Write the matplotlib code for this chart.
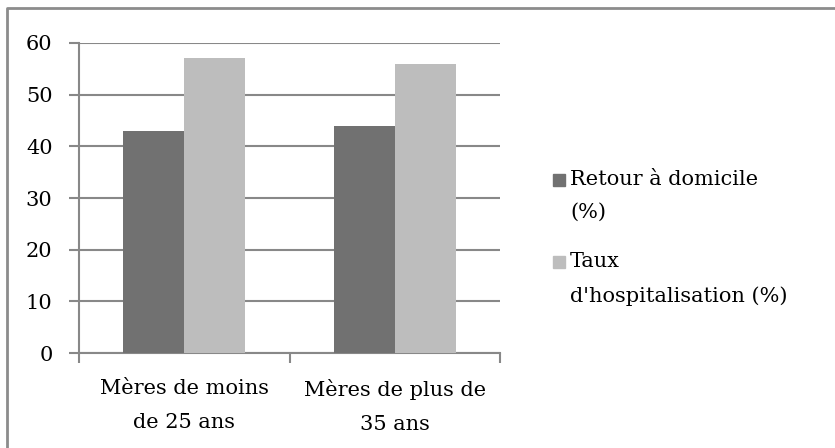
import numpy as np
import matplotlib
matplotlib.use("Agg")
import matplotlib.pyplot as plt
from matplotlib.patches import Rectangle
from matplotlib.lines import Line2D

# Data
categories = ["Mères de moins\nde 25 ans", "Mères de plus de\n35 ans"]
series_names = ["Retour à domicile\n(%)", "Taux\nd'hospitalisation (%)"]
series_colors = ["#717171", "#bdbdbd"]
retour = [43, 44]
hospit = [57, 56]
yticks = [0, 10, 20, 30, 40, 50, 60]

plt.rcParams['font.family'] = ['DejaVu Serif']
fs = 15

W, H = 835, 448
fig = plt.figure(figsize=(W / 100, H / 100), dpi=100)
ax = fig.add_axes([79 / W, 1 - 353 / H, (500 - 79) / W, (353 - 43) / H])

gcol = "#888888"
x = np.arange(len(categories)) + 0.5
bw = 0.29
ax.bar(x - bw / 2, retour, bw, color=series_colors[0], zorder=3)
ax.bar(x + bw / 2, hospit, bw, color=series_colors[1], zorder=3)

ax.set_xlim(0, len(categories))
ax.set_ylim(0, 60)
ax.set_yticks(yticks)
ax.yaxis.grid(True, color=gcol, linewidth=1.5, zorder=0)
ax.set_xticks(np.arange(len(categories) + 1))
ax.set_xticklabels([])
ax.set_xticks(x, minor=True)
ax.set_xticklabels(categories, minor=True, linespacing=1.95)
ax.tick_params(axis="x", which="minor", length=0, pad=19, labelsize=fs)
ax.tick_params(axis="x", which="major", length=7, width=1.5, color=gcol)
ax.tick_params(axis="y", length=7, width=1.5, color=gcol, pad=12, labelsize=fs)
for s in ["top", "right"]:
    ax.spines[s].set_visible(False)
for s in ["left", "bottom"]:
    ax.spines[s].set_color(gcol)
    ax.spines[s].set_linewidth(1.5)

# legend drawn by hand so the square sits beside the first line
leg_y = [180, 262]
for name, col, yy in zip(series_names, series_colors, leg_y):
    fig.patches.append(Rectangle((553 / W, 1 - (yy + 6) / H), 12 / W, 12 / H,
                                 transform=fig.transFigure, color=col))
    fig.text(570 / W, 1 - (yy - 10) / H, name, fontsize=fs, va="top", ha="left",
             linespacing=1.95)

# chart frame: only top and left edges are visible in the crop
fig.add_artist(Line2D([7 / W, 7 / W, 1], [0, 1 - 8 / H, 1 - 8 / H], transform=fig.transFigure,
                      color="#8c8c8c", linewidth=2))

fig.savefig("out.png", dpi=100)
